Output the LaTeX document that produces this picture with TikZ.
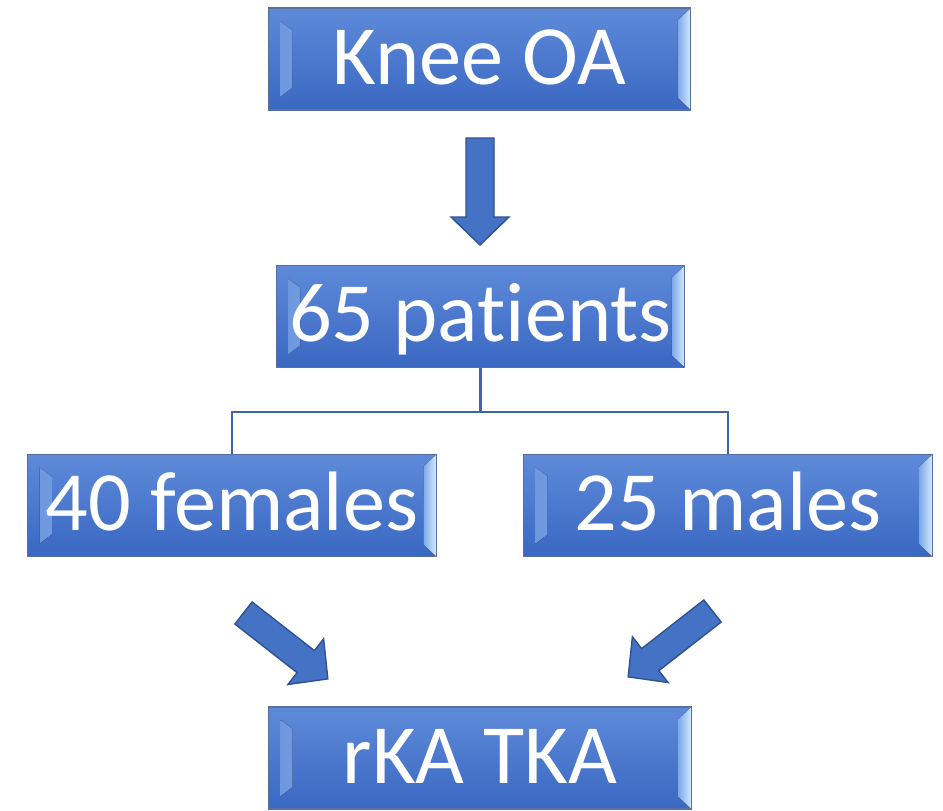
\documentclass[tikz,border=0pt]{standalone}
\usepackage{fontspec}
\setmainfont{Carlito}[RawFeature={-liga;-clig;-calt;-dlig}]
\definecolor{facetop}{HTML}{5E8AD9}
\definecolor{facebot}{HTML}{3A68C2}
\definecolor{boxline}{HTML}{56719F}
\definecolor{bevdark}{HTML}{7FA9EA}
\definecolor{bevlight}{HTML}{D6ECFF}
\definecolor{arrowfill}{HTML}{4472C4}
\definecolor{arrowline}{HTML}{2F528F}
\definecolor{linkcol}{HTML}{3E64AA}
\tikzset{
  stagebox/.style={draw=boxline, line width=0.6pt, top color=facetop, bottom color=facebot,
    minimum height=2.04cm, text=white, font=\fontsize{48}{58}\selectfont,
    text height=30pt, text depth=1pt, inner sep=0pt,
    path picture={
      \fill[left color=bevdark!70!facebot, right color=bevlight]
        ([shift={(0.24cm,-0.26cm)}]path picture bounding box.north west)
        -- ([shift={(0.48cm,-0.44cm)}]path picture bounding box.north west)
        -- ([shift={(0.48cm,0.44cm)}]path picture bounding box.south west)
        -- ([shift={(0.24cm,0.26cm)}]path picture bounding box.south west) -- cycle;
      \fill[left color=bevdark, right color=bevlight]
        ([shift={(-0.26cm,-0.24cm)}]path picture bounding box.north east)
        -- (path picture bounding box.north east)
        -- (path picture bounding box.south east)
        -- ([shift={(-0.26cm,0.24cm)}]path picture bounding box.south east) -- cycle;
    }},
  widebox/.style={stagebox, minimum width=8.46cm},
  narrowbox/.style={stagebox, minimum width=8.18cm},
  link/.style={draw=linkcol, line width=1.3pt},
  blockarrow/.style={fill=arrowfill, draw=arrowline, line width=0.8pt, line join=miter}
}
\begin{document}
\begin{tikzpicture}[x=0.02cm, y=-0.02cm]
\useasboundingbox (0,0) rectangle (943,811);

% boxes
\node[widebox] (knee) at (479.5,59) {Knee OA};
\node[narrowbox] (pat) at (480.5,316.5) {65 patients};
\node[narrowbox] (fem) at (232,505.5) {40 females};
\node[narrowbox] (mal) at (728,505.5) {25 males};
\node[widebox] (tka) at (480,758) {rKA TKA};

% split line
\draw[link] (pat.south) -- ++(0,44) coordinate (split) -| (fem.north);
\draw[link] (split) -| (mal.north);

% block arrows
\draw[blockarrow, shift={(480,138)}, rotate=-90]
  (0,-14) -- (79,-14) -- (79,-29) -- (107,0) -- (79,29) -- (79,14) -- (0,14) -- cycle;
\draw[blockarrow, shift={(243.5,613)}, rotate=-38]
  (0,-14) -- (79,-14) -- (79,-29) -- (107,0) -- (79,29) -- (79,14) -- (0,14) -- cycle;
\draw[blockarrow, shift={(712.5,611)}, rotate=-142]
  (0,-14) -- (79,-14) -- (79,-29) -- (107,0) -- (79,29) -- (79,14) -- (0,14) -- cycle;
\end{tikzpicture}
\end{document}
